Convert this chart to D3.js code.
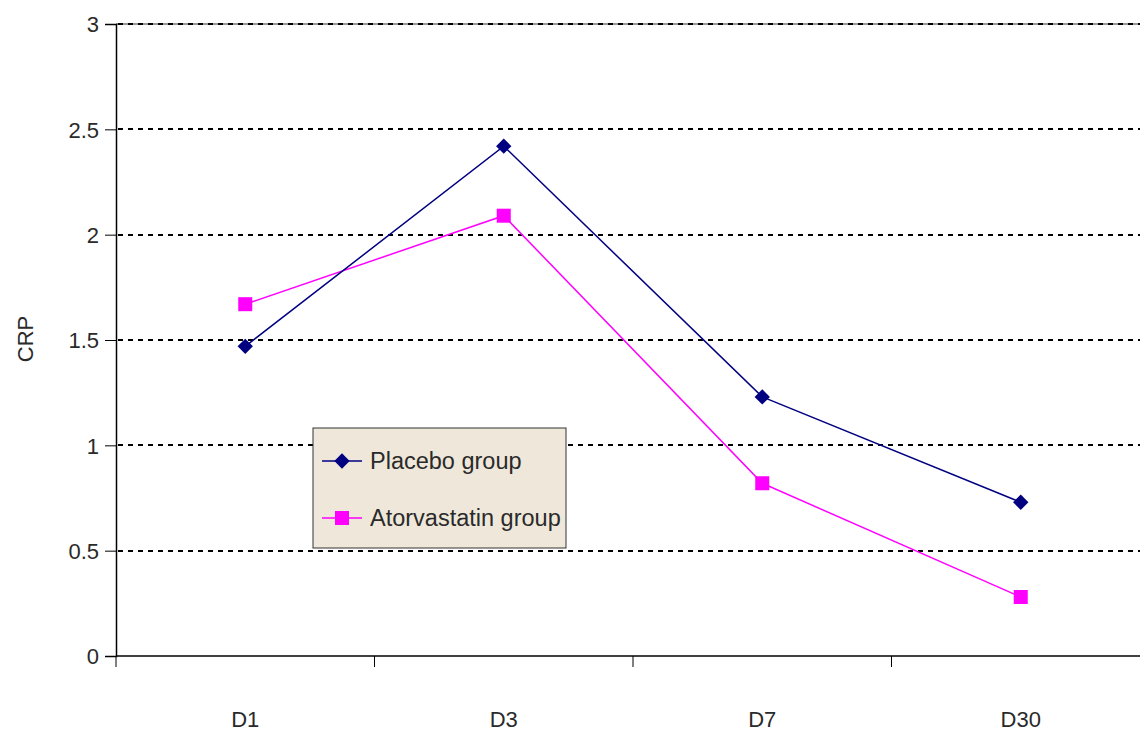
<!DOCTYPE html>
<html>
<head>
<meta charset="utf-8">
<script src="https://cdn.jsdelivr.net/npm/d3@7"></script>
<style>
  body { margin: 0; background: #fff; }
  text { font-family: "Liberation Sans", Arial, sans-serif; fill: #2a2a2a; }
</style>
</head>
<body>
<script>
// chart data
var days = ["D1", "D3", "D7", "D30"];
var placebo = [1.47, 2.42, 1.23, 0.73];
var atorva = [1.67, 2.09, 0.82, 0.28];
var yTicks = [0, 0.5, 1, 1.5, 2, 2.5, 3];

var W = 1140, H = 733;
var svg = d3.select("body").append("svg").attr("width", W).attr("height", H);

var x = d3.scaleBand().domain(days).range([116, 1150]);
var y = d3.scaleLinear().domain([0, 3]).range([656, 24]);

// top border of plot
svg.append("line")
  .attr("x1", 116).attr("x2", W).attr("y1", y(3)).attr("y2", y(3))
  .style("stroke", "#999").style("stroke-width", 2);

// gridlines (rounded so the dashes stay crisp)
svg.selectAll(".grid")
  .data(yTicks.filter(function(d){ return d > 0; }))
  .enter().append("line")
  .attr("class", "grid")
  .attr("x1", 118).attr("x2", W)
  .attr("y1", function(d){ return Math.round(y(d)); })
  .attr("y2", function(d){ return Math.round(y(d)); })
  .style("stroke", "#000").style("stroke-width", 2)
  .style("stroke-dasharray", "5,5");

// y axis
var yAxis = d3.axisLeft(y).tickValues(yTicks).tickSize(11).tickPadding(6)
  .tickFormat(function(d){ return d; });
var gy = svg.append("g").attr("transform", "translate(116,0)").call(yAxis);
gy.select(".domain").style("stroke", "#000").style("stroke-width", 1.5);
gy.selectAll(".tick line").style("stroke", "#000");
gy.selectAll("text").style("font-size", "22px").attr("dy", "0.35em");

// x axis
svg.append("line")
  .attr("x1", 116).attr("x2", W).attr("y1", 656).attr("y2", 656)
  .style("stroke", "#000").style("stroke-width", 1.5);
var xTicks = days.map(function(d){ return x(d); });
svg.selectAll(".xtick")
  .data(xTicks)
  .enter().append("line")
  .attr("class", "xtick")
  .attr("x1", function(d){ return d; }).attr("x2", function(d){ return d; })
  .attr("y1", 656).attr("y2", 667)
  .style("stroke", "#000");
svg.selectAll(".xlab")
  .data(days)
  .enter().append("text")
  .attr("class", "xlab")
  .attr("x", function(d){ return x(d) + x.bandwidth() / 2; })
  .attr("y", 727)
  .attr("text-anchor", "middle")
  .style("font-size", "22px")
  .text(function(d){ return d; });

// y title
svg.append("text")
  .attr("transform", "translate(33,339) rotate(-90)")
  .attr("text-anchor", "middle")
  .style("font-size", "22px")
  .text("CRP");

var cx = function(d, i){ return x(days[i]) + x.bandwidth() / 2; };
var line = d3.line().x(cx).y(function(d){ return y(d); });

svg.append("path").datum(atorva).attr("d", line)
  .style("fill", "none").style("stroke", "#ff00ff").style("stroke-width", 1.5);
svg.append("path").datum(placebo).attr("d", line)
  .style("fill", "none").style("stroke", "#000080").style("stroke-width", 1.5);

svg.selectAll(".sq")
  .data(atorva)
  .enter().append("rect")
  .attr("class", "sq")
  .attr("x", function(d, i){ return cx(d, i) - 7; })
  .attr("y", function(d){ return y(d) - 7; })
  .attr("width", 14).attr("height", 14)
  .style("fill", "#ff00ff");

var diamond = d3.symbol().type(d3.symbolDiamond2).size(150);
svg.selectAll(".dm")
  .data(placebo)
  .enter().append("path")
  .attr("class", "dm")
  .attr("transform", function(d, i){ return "translate(" + cx(d, i) + "," + y(d) + ")"; })
  .attr("d", diamond)
  .style("fill", "#000080");

// legend
var lg = svg.append("g").attr("transform", "translate(313,428)");
lg.append("rect").attr("width", 253).attr("height", 120)
  .style("fill", "#efe8da").style("stroke", "#333").style("stroke-width", 1);
var items = [
  {name: "Placebo group", color: "#000080", shape: "diamond", yy: 33},
  {name: "Atorvastatin group", color: "#ff00ff", shape: "square", yy: 90}
];
items.forEach(function(it){
  lg.append("line").attr("x1", 9).attr("x2", 49).attr("y1", it.yy).attr("y2", it.yy)
    .style("stroke", it.color).style("stroke-width", 1.5);
  if (it.shape == "square") {
    lg.append("rect").attr("x", 22).attr("y", it.yy - 7).attr("width", 14).attr("height", 14)
      .style("fill", it.color);
  } else {
    lg.append("path").attr("transform", "translate(29," + it.yy + ")")
      .attr("d", diamond).style("fill", it.color);
  }
  lg.append("text").attr("x", 57).attr("y", it.yy + 8)
    .style("font-size", "23.5px").text(it.name);
});
</script>
</body>
</html>
